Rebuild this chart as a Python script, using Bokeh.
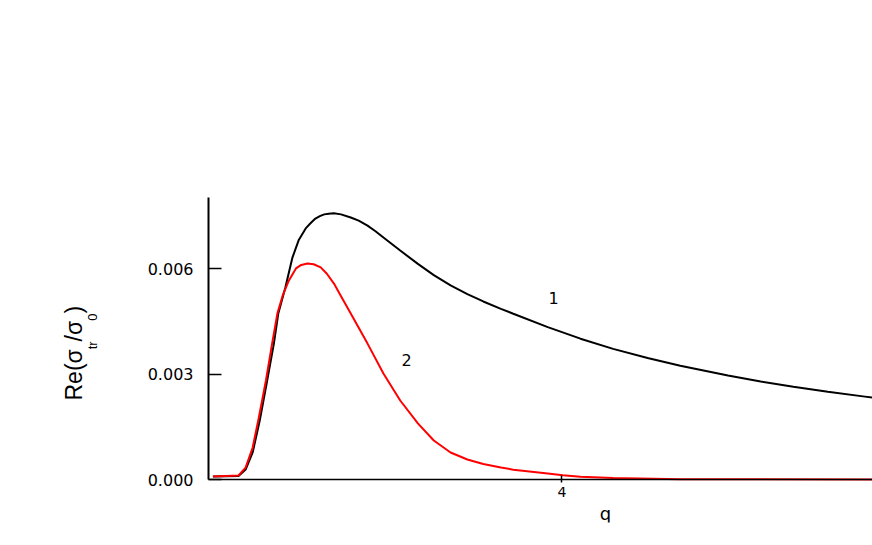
import math
from bokeh.plotting import figure
from bokeh.models import Range1d, FixedTicker, Label
from bokeh.embed import file_html
from bokeh.resources import INLINE

# ---- data ----
q_curve1 = [0.05, 0.34, 0.42, 0.50, 0.58, 0.66, 0.74, 0.79, 0.87, 0.95, 1.02, 1.10,
            1.16, 1.21, 1.26, 1.31, 1.36, 1.42, 1.50, 1.61, 1.70, 1.80, 1.89, 1.98,
            2.17, 2.37, 2.55, 2.74, 2.93, 3.11, 3.31, 3.45, 3.84, 4.21, 4.58, 4.97,
            5.34, 5.88, 6.25, 6.62, 7.01, 7.43, 7.52]
re_curve1 = [0.000085, 0.0001, 0.000285, 0.00077, 0.00168, 0.00276, 0.00387, 0.00473,
             0.00547, 0.00632, 0.00681, 0.00715, 0.00731, 0.00743, 0.00750, 0.00755,
             0.00757, 0.00758, 0.00755, 0.00746, 0.00737, 0.00723, 0.00707, 0.00689,
             0.00652, 0.00614, 0.00582, 0.00553, 0.00528, 0.00507, 0.00486, 0.00472,
             0.00434, 0.00401, 0.00372, 0.00346, 0.00324, 0.00296, 0.00279, 0.00264,
             0.0025, 0.00236, 0.00233]

q_curve2 = [0.05, 0.34, 0.42, 0.50, 0.57, 0.65, 0.72, 0.78, 0.84, 0.91, 0.99, 1.05,
            1.12, 1.19, 1.27, 1.34, 1.42, 1.50, 1.61, 1.80, 1.98, 2.17, 2.37, 2.55,
            2.74, 2.93, 3.11, 3.31, 3.45, 3.84, 4.01, 4.21, 4.58, 5.34, 6.13, 7.52]
re_curve2 = [0.000085, 0.000114, 0.00034, 0.00091, 0.00177, 0.00282, 0.00387, 0.00473,
             0.00524, 0.00567, 0.00601, 0.00611, 0.00615, 0.00613, 0.00604, 0.00586,
             0.00558, 0.00522, 0.00473, 0.00387, 0.00302, 0.00225, 0.0016, 0.00111,
             0.00077, 0.00057, 0.00044, 0.00034, 0.00028, 0.00017, 0.00012, 0.00008,
             0.00004, 0.00001, 0.000005, 0.000002]

x_ticks = [4]
y_ticks = [0.0, 0.003, 0.006]
y_tick_labels = ["0.000", "0.003", "0.006"]
curve_names = ["1", "2"]
x_title = "q"

FONT = "DejaVu Sans"
LFONT = "Liberation Sans"

# frame: left 62px, right 872px, top 30px, bottom 522px
LEFT_BORDER = 62
PX_PER_X = 88.35
Y_PER_PX = 0.003 / 105.35
X0_PX, Y0_PX = 208, 479
X_MIN = -(X0_PX - LEFT_BORDER) / PX_PER_X
X_MAX = (872 - X0_PX) / PX_PER_X
Y_MIN = -(522 - Y0_PX) * Y_PER_PX
Y_MAX = (Y0_PX - 30) * Y_PER_PX
X_AXIS_END = X_MAX
Y_AXIS_END = 0.00802


def sx(px):
    return (px - X0_PX) / PX_PER_X


def sy(py):
    return (Y0_PX - py) * Y_PER_PX


p = figure(width=872, height=545,
           x_range=Range1d(X_MIN, X_MAX), y_range=Range1d(Y_MIN, Y_MAX),
           output_backend="svg", toolbar_location=None,
           min_border_left=LEFT_BORDER, min_border_right=0,
           min_border_top=30, min_border_bottom=23)

p.grid.visible = False
p.outline_line_color = None
p.background_fill_color = "white"
p.border_fill_color = "white"

p.line(q_curve1, re_curve1, line_color="black", line_width=2)
p.line(q_curve2, re_curve2, line_color="#ff0000", line_width=2)

xa = p.xaxis[0]
xa.ticker = FixedTicker(ticks=x_ticks)
xa.fixed_location = 0
xa.bounds = (0, X_AXIS_END)
xa.major_tick_in = 4
xa.major_tick_out = 3
xa.major_tick_line_width = 1.5
xa.major_tick_line_color = "black"
xa.minor_tick_line_color = None
xa.axis_line_width = 1.5
xa.axis_line_color = "black"
xa.major_label_text_font = FONT
xa.major_label_text_font_size = "14px"
xa.major_label_text_color = "black"
xa.major_label_standoff = 4

ya = p.yaxis[0]
ya.ticker = FixedTicker(ticks=y_ticks)
ya.fixed_location = 0
ya.bounds = (0, Y_AXIS_END)
ya.major_label_overrides = {t: s for t, s in zip(y_ticks, y_tick_labels)}
ya.major_tick_in = 13
ya.major_tick_out = 0
ya.major_tick_line_width = 1.5
ya.major_tick_line_color = "black"
ya.minor_tick_line_color = None
ya.axis_line_width = 2
ya.axis_line_color = "black"
ya.major_label_text_font = FONT
ya.major_label_text_font_size = "16px"
ya.major_label_text_color = "black"
ya.major_label_standoff = 15

# curve labels
p.add_layout(Label(x=sx(553), y=sy(297), text=curve_names[0], text_font=FONT,
                   text_font_size="16px", text_color="black",
                   text_align="center", text_baseline="middle"))
p.add_layout(Label(x=sx(406), y=sy(359), text=curve_names[1], text_font=FONT,
                   text_font_size="16px", text_color="black",
                   text_align="center", text_baseline="middle"))

# x axis title
p.add_layout(Label(x=sx(605), y=sy(513), text=x_title, text_font=FONT,
                   text_font_size="18px", text_color="black",
                   text_align="center", text_baseline="middle"))

# y axis title Re(σ_tr/σ_0), rotated
ang = math.pi / 2
main_x = sx(73)
sub_x = sx(92)
parts = [
    ("Re(σ", main_x, sy(400), "23px"),
    ("tr", sub_x, sy(348.8), "13px"),
    ("/σ", main_x, sy(340.9), "23px"),
    ("0", sub_x, sy(320.3), "13px"),
    (")", main_x, sy(313.1), "23px"),
]
for txt, lx, ly, fs in parts:
    p.add_layout(Label(x=lx, y=ly, text=txt, angle=ang, text_font=LFONT,
                       text_font_size=fs, text_color="black", text_align="left",
                       text_baseline="middle"))

open("out.html", "w").write(file_html(p, INLINE))
